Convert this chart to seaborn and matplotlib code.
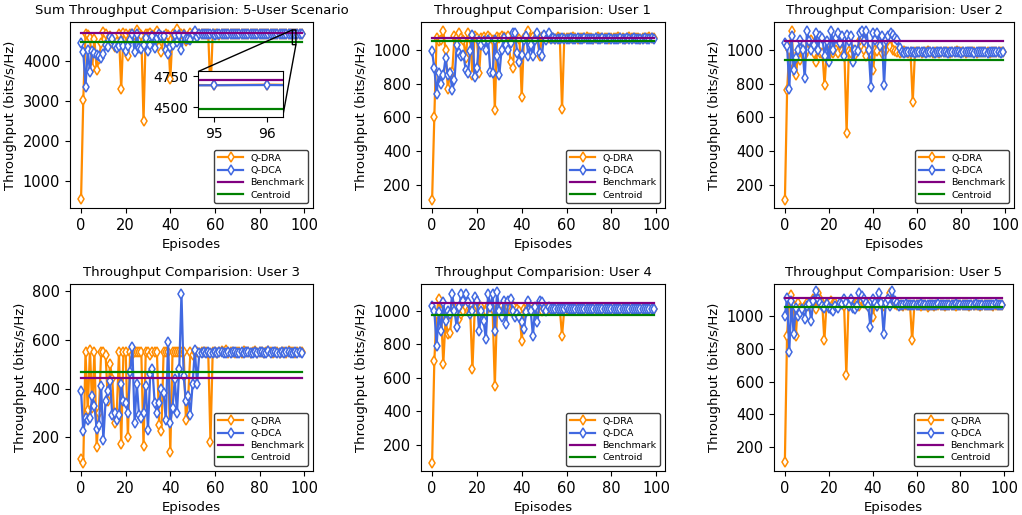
import numpy as np
import matplotlib
matplotlib.use("Agg")
import matplotlib.pyplot as plt
import seaborn as sns

# ---------------- data ----------------
sum_dra = [530, 3040, 4700, 4670, 4580, 3840, 4560, 3780, 4070, 4450,
           4730, 4695, 4510, 4630, 4470, 4370, 4480, 4680, 3310, 4710,
           4680, 4140, 4690, 4685, 4655, 4780, 4710, 4660, 2510, 4695,
           4680, 4710, 4675, 4690, 4770, 4350, 4225, 4630, 4695, 4675,
           3550, 4700, 4675, 4810, 4670, 4685, 4685, 4510, 4550, 4725,
           4680, 4685, 4678, 4685, 4682, 4676, 4682, 4681, 3220, 4680,
           4682, 4686, 4674, 4690, 4679, 4680, 4683, 4677, 4681, 4684,
           4679, 4682, 4676, 4680, 4685, 4678, 4681, 4683, 4677, 4680,
           4682, 4679, 4684, 4678, 4681, 4680, 4683, 4677, 4682, 4679,
           4681, 4684, 4678, 4680, 4682, 4679, 4683, 4680, 4681, 4679]
sum_dca = [4450, 4245, 3360, 4290, 3730, 4270, 4220, 4165, 4130, 4080,
           4180, 4400, 4360, 4610, 4570, 4380, 4340, 4390, 4520, 4390,
           4270, 4380, 4530, 4690, 4240, 4700, 4330, 4300, 4410, 4590,
           4260, 4400, 4650, 4340, 4600, 4680, 4650, 4630, 4290, 4190,
           4360, 4410, 4670, 4480, 4670, 4280, 4670, 4560, 4570, 4540,
           4680, 4760, 4610,
           4678, 4680, 4676, 4679, 4677, 4681, 4678, 4675, 4679, 4680,
           4677, 4678, 4680, 4676, 4679, 4678, 4677, 4681, 4678, 4679,
           4680, 4677, 4678, 4679, 4676, 4680, 4678, 4677, 4679, 4680,
           4678, 4676, 4679, 4677, 4681, 4678, 4679, 4680, 4677, 4678,
           4679, 4676, 4678, 4680, 4677, 4679, 4678]

u1_dra = [110, 605, 1070, 1050, 1060, 1110, 1000, 770, 860, 870,
          1080, 1075, 1100, 1070, 1060, 950, 1100, 1070, 850, 1080,
          1070, 860, 1070, 1075, 1065, 1080, 1070, 1060, 645, 1075,
          1070, 1080, 1075, 1070, 1080, 930, 890, 1070, 1075, 1065,
          720, 1070, 1075, 1110, 1070, 1075, 1065, 1070, 960, 1075,
          1070, 1075, 1070, 1075, 1070, 1065, 1075, 1070, 650, 1070,
          1072, 1070, 1068, 1075, 1070, 1062, 1072, 1070, 1068, 1074,
          1070, 1072, 1066, 1070, 1075, 1070, 1068, 1072, 1070, 1065,
          1072, 1070, 1068, 1074, 1070, 1072, 1066, 1070, 1075, 1070,
          1068, 1072, 1070, 1065, 1072, 1070, 1068, 1074, 1070, 1072]
u1_dca = [990, 890, 740, 860, 800, 850, 950, 850, 860, 760,
          820, 1030, 980, 960, 970, 880, 860, 990, 1090, 840,
          890, 1050, 1030, 1050, 1000, 1060, 870, 860, 1060, 960,
          850, 1000, 1070, 1030, 1000, 1040, 1100, 1100, 980, 930,
          970, 1060, 1080, 960, 1030, 960, 1060, 1100, 980, 960,
          1090, 1060, 1100,
          1065, 1068, 1062, 1066, 1064, 1068, 1065, 1062, 1066, 1068,
          1064, 1065, 1067, 1063, 1066, 1068, 1064, 1065, 1062, 1066,
          1068, 1064, 1065, 1067, 1063, 1066, 1068, 1064, 1065, 1062,
          1066, 1068, 1064, 1065, 1067, 1063, 1066, 1068, 1064, 1065,
          1062, 1066, 1068, 1064, 1065, 1067, 1066]

u2_dra = [110, 760, 1000, 1110, 900, 850, 980, 940, 1000, 970,
          1000, 1040, 1060, 980, 930, 1000, 980, 980, 790, 1000,
          970, 990, 980, 1000, 980, 1050, 990, 980, 510, 990,
          980, 1000, 970, 1000, 1060, 1080, 1000, 960, 1000, 980,
          880, 1000, 990, 1050, 980, 990, 1000, 1060, 1070, 1000,
          990, 985, 980, 985, 990, 985, 980, 985, 690, 985,
          985, 988, 982, 986, 984, 990, 985, 982, 987, 985,
          983, 986, 988, 984, 985, 982, 987, 985, 990, 984,
          985, 988, 982, 986, 984, 985, 987, 983, 985, 986,
          984, 988, 985, 982, 986, 985, 987, 984, 985, 986]
u2_dca = [1040, 1020, 770, 1080, 880, 950, 1000, 1060, 1000, 830,
          1110, 1050, 1000, 1030, 1100, 1000, 1080, 1070, 960, 1050,
          930, 1110, 1000, 1070, 1100, 1040, 1080, 960, 1090, 1050,
          1080, 930, 1000, 990, 1100, 1110, 1050, 1110, 1000, 780,
          1100, 1060, 1100, 1020, 1080, 790, 1060, 1080, 1100, 1090,
          1070, 1060, 1010,
          985, 982, 986, 984, 987, 985, 983, 986, 984, 985,
          987, 983, 985, 986, 984, 982, 985, 987, 984, 986,
          985, 983, 986, 985, 984, 987, 985, 982, 986, 985,
          984, 986, 985, 983, 987, 985, 984, 986, 985, 983,
          986, 985, 984, 987, 985, 983, 986]

u3_dra = [110, 95, 550, 310, 560, 320, 550, 160, 300, 550,
          550, 540, 350, 500, 440, 260, 300, 550, 170, 550,
          550, 200, 550, 540, 550, 550, 550, 550, 165, 550,
          550, 540, 550, 550, 550, 250, 225, 550, 550, 550,
          140, 550, 550, 550, 550, 550, 550, 270, 360, 550,
          540, 550, 550, 548, 552, 550, 550, 548, 180, 550,
          550, 548, 552, 555, 550, 560, 548, 552, 550, 546,
          552, 550, 548, 555, 550, 552, 548, 550, 553, 547,
          550, 552, 548, 550, 555, 550, 548, 552, 550, 547,
          552, 550, 548, 553, 550, 552, 548, 550, 552, 549]
u3_dca = [390, 225, 280, 270, 280, 370, 330, 235, 250, 410,
          190, 350, 390, 430, 290, 300, 270, 290, 420, 350,
          340, 300, 470, 570, 260, 420, 290, 280, 300, 410,
          230, 460, 480, 340, 300, 340, 400, 380, 270, 590,
          260, 320, 440, 300, 480, 790, 450, 350, 370, 290,
          420, 560, 420,
          545, 548, 550, 546, 552, 548, 545, 550, 547, 549,
          552, 546, 548, 550, 545, 549, 551, 547, 548, 550,
          546, 549, 552, 547, 548, 550, 545, 549, 551, 547,
          548, 555, 546, 549, 550, 547, 548, 551, 546, 549,
          550, 547, 548, 551, 546, 549, 548]

u4_dra = [90, 700, 980, 1070, 1000, 680, 950, 860, 870, 1000,
          1020, 980, 950, 980, 1000, 1020, 1000, 1000, 650, 1000,
          1030, 1000, 1020, 990, 1000, 1030, 1020, 1010, 550, 1010,
          1000, 1030, 1010, 990, 1020, 1000, 1030, 980, 1010, 1000,
          820, 1010, 1000, 1020, 1000, 1010, 990, 1010, 1020, 1000,
          1010, 1010, 1010, 1012, 1008, 1010, 1012, 1010, 850, 1010,
          1010, 1012, 1008, 1011, 1010, 1015, 1008, 1010, 1012, 1009,
          1010, 1008, 1012, 1010, 1011, 1009, 1010, 1012, 1008, 1010,
          1011, 1010, 1009, 1012, 1010, 1008, 1011, 1010, 1012, 1009,
          1010, 1011, 1008, 1010, 1012, 1010, 1009, 1011, 1010, 1012]
u4_dca = [1030, 1000, 790, 990, 880, 1050, 940, 1000, 980, 1100,
          1000, 900, 1020, 1100, 1060, 1100, 1050, 980, 1000, 1080,
          1060, 880, 1000, 940, 830, 1100, 1020, 1100, 880, 1110,
          1000, 960, 1060, 920, 1060, 1070, 1000, 960, 980, 960,
          930, 890, 990, 1060, 1000, 850, 1020, 930, 1060, 1050,
          1010, 1000, 1020,
          1012, 1010, 1013, 1011, 1009, 1012, 1010, 1014, 1011, 1012,
          1009, 1012, 1010, 1013, 1011, 1012, 1010, 1009, 1012, 1011,
          1013, 1010, 1012, 1011, 1009, 1012, 1010, 1013, 1011, 1012,
          1010, 1009, 1012, 1011, 1013, 1010, 1012, 1011, 1009, 1012,
          1010, 1013, 1011, 1012, 1010, 1009, 1012]

u5_dra = [110, 880, 1100, 1130, 1060, 880, 1080, 1050, 1040, 1060,
          1080, 1060, 1050, 1100, 1040, 1140, 1100, 1080, 850, 1080,
          1060, 1090, 1070, 1080, 1060, 1070, 1080, 1060, 640, 1070,
          1080, 1060, 1070, 1080, 1060, 1090, 1080, 1070, 1060, 1080,
          990, 1070, 1060, 1080, 1070, 1060, 1080, 1100, 1140, 1100,
          1070, 1065, 1068, 1065, 1062, 1066, 1065, 1068, 850, 1065,
          1065, 1068, 1062, 1066, 1064, 1055, 1068, 1065, 1062, 1066,
          1064, 1068, 1065, 1063, 1066, 1064, 1067, 1065, 1062, 1066,
          1065, 1068, 1064, 1066, 1063, 1065, 1067, 1064, 1066, 1062,
          1065, 1068, 1064, 1066, 1065, 1063, 1067, 1065, 1064, 1066]
u5_dca = [1000, 1110, 780, 1090, 890, 1050, 1000, 1020, 1040, 980,
          1060, 1070, 970, 1090, 1150, 1100, 1080, 1060, 1050, 1070,
          1050, 1040, 1030, 1060, 1050, 1080, 1070, 1100, 1080, 1060,
          1100, 1050, 1040, 1060, 1140, 1120, 1100, 1080, 1060, 930,
          1100, 1080, 1060, 1140, 1080, 890, 1080, 1100, 1060, 1150,
          1090, 1080, 1060,
          1068, 1066, 1070, 1067, 1065, 1068, 1069, 1066, 1068, 1070,
          1067, 1065, 1068, 1066, 1069, 1067, 1068, 1070, 1066, 1068,
          1067, 1069, 1065, 1068, 1066, 1070, 1067, 1068, 1065, 1068,
          1069, 1066, 1068, 1067, 1070, 1066, 1068, 1069, 1065, 1068,
          1067, 1066, 1068, 1070, 1067, 1068, 1066]

titles = ["Sum Throughput Comparision: 5-User Scenario",
          "Throughput Comparision: User 1", "Throughput Comparision: User 2",
          "Throughput Comparision: User 3", "Throughput Comparision: User 4",
          "Throughput Comparision: User 5"]
benchmark = [4720, 1067, 1051, 445, 1046, 1110]
centroid = [4486, 1051, 939, 467, 976, 1053]
series_dra = [sum_dra, u1_dra, u2_dra, u3_dra, u4_dra, u5_dra]
series_dca = [sum_dca, u1_dca, u2_dca, u3_dca, u4_dca, u5_dca]
ylims = [(312, 4990), (64, 1164), (64, 1164), (61, 830), (42, 1160), (55, 1194)]

C_DRA = "darkorange"
C_DCA = "royalblue"
C_BEN = "purple"
C_CEN = "green"

W, H = 1022, 515
fig = plt.figure(figsize=(W / 100, H / 100), dpi=100)
# axes boxes in pixels: left, top, right, bottom
boxes = [(70, 22, 313, 208), (421, 22, 665, 208), (774, 22, 1014, 208),
         (70, 284, 313, 471), (421, 284, 665, 471), (774, 284, 1013, 471)]


def draw_lines(ax, dra, dca, bench, cent, labels=True):
    x1 = np.arange(len(dra))
    x2 = np.arange(len(dca))
    kw = dict(marker="d", markersize=5.5, markerfacecolor="white",
              markeredgewidth=1.1, linewidth=1.6)
    sns.lineplot(x=x1, y=dra, ax=ax, color=C_DRA, markeredgecolor=C_DRA,
                 label="Q-DRA" if labels else None, **kw)
    sns.lineplot(x=x2, y=dca, ax=ax, color=C_DCA, markeredgecolor=C_DCA,
                 label="Q-DCA" if labels else None, **kw)
    xb = np.arange(len(dra))
    sns.lineplot(x=xb, y=np.full(len(xb), bench), ax=ax, color=C_BEN,
                 linewidth=1.6, label="Benchmark" if labels else None)
    sns.lineplot(x=xb, y=np.full(len(xb), cent), ax=ax, color=C_CEN,
                 linewidth=1.6, label="Centroid" if labels else None)


axes = []
for i, (l, t, r, b) in enumerate(boxes):
    ax = fig.add_axes([l / W, 1 - b / H, (r - l) / W, (b - t) / H])
    axes.append(ax)
    draw_lines(ax, series_dra[i], series_dca[i], benchmark[i], centroid[i])
    ax.set_ylim(*ylims[i])
    ax.set_xticks([0, 20, 40, 60, 80, 100])
    ax.set_title(titles[i], fontsize=9.5)
    ax.set_xlabel("Episodes", fontsize=9.5)
    ax.set_ylabel("Throughput (bits/s/Hz)", fontsize=9.5)
    ax.tick_params(labelsize=10.5)
    leg = ax.legend(loc="lower right", fontsize=6.8, framealpha=1,
                    edgecolor="0.25", handlelength=2.6, labelspacing=0.35)

# inset in the sum panel
ax0 = axes[0]
axins = ax0.inset_axes([0.528, 0.489, 0.347, 0.245])
draw_lines(axins, sum_dra, sum_dca, benchmark[0], centroid[0], labels=False)
if axins.get_legend() is not None:
    axins.get_legend().remove()
axins.set_xlim(94.7, 96.3)
axins.set_ylim(4420, 4790)
axins.set_xticks([95, 96])
axins.set_yticks([4500, 4750])
axins.tick_params(labelsize=10)
axins.set_xlabel("")
axins.set_ylabel("")
ax0.indicate_inset_zoom(axins, edgecolor="black", alpha=1.0)

fig.savefig("out.png", dpi=100)
